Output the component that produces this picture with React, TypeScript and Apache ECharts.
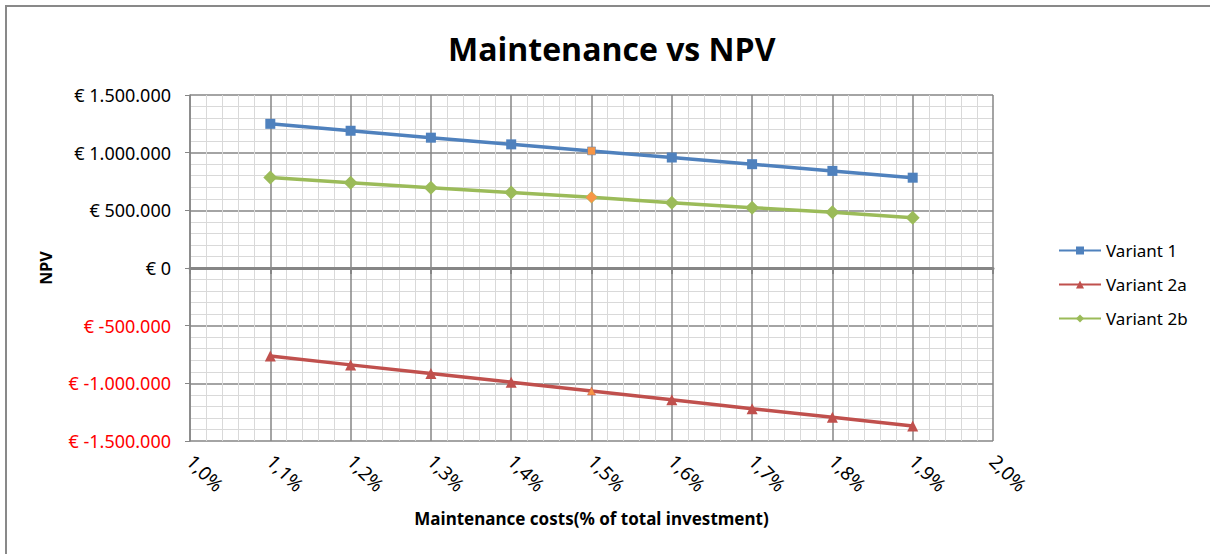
import React, { useEffect, useRef } from "react";
import * as echarts from "echarts";

const xValues = [1.1, 1.2, 1.3, 1.4, 1.5, 1.6, 1.7, 1.8, 1.9];
const variant1 = [1250000, 1190000, 1130000, 1072000, 1015000, 958000, 900000, 842000, 783000];
const variant2a = [-763000, -840000, -915000, -990000, -1067000, -1143000, -1220000, -1295000, -1370000];
const variant2b = [785000, 740000, 695000, 655000, 613000, 566000, 523000, 483000, 436000];
const highlightIndex = 4;

const FONT = "'Open Sans', sans-serif";
const BODY_FONT = "'Noto Sans', 'Open Sans', sans-serif";

function fmtEuro(v: number): string {
  if (v === 0) return "€ 0";
  const neg = v < 0;
  const s = Math.round(Math.abs(v)).toString().replace(/\B(?=(\d{3})+(?!\d))/g, ".");
  return "€ " + (neg ? "-" : "") + s;
}

function buildData(values: number[], color: string, hlSize: number) {
  return xValues.map((x, i) =>
    i === highlightIndex
      ? { value: [x, values[i]], symbolSize: hlSize, itemStyle: { color: "#F79646", borderColor: color, borderWidth: 0.5 } }
      : { value: [x, values[i]] }
  );
}

export default function App() {
  const ref = useRef<HTMLDivElement>(null);
  useEffect(() => {
    if (!ref.current) return;
    const chart = echarts.init(ref.current, null, { renderer: "svg" });
    const major = "#868686";
    const minor = "#d9d9d9";
    chart.setOption({
      animation: false,
      backgroundColor: "#ffffff",
      title: {
        text: "Maintenance vs NPV",
        left: 443,
        top: 27,
        textStyle: { fontFamily: FONT, fontSize: 32, fontWeight: "bold", color: "#000" },
      },
      graphic: [
        {
          type: "rect",
          shape: { x: 6, y: 6, width: 1400, height: 700 },
          style: { fill: "none", stroke: "#898989", lineWidth: 2 },
          silent: true,
        },
      ],
      legend: {
        orient: "vertical",
        left: 1053,
        top: 237,
        itemWidth: 42,
        itemHeight: 10,
        itemGap: 17,
        textStyle: { fontFamily: BODY_FONT, fontSize: 17, color: "#000" },
        data: ["Variant 1", "Variant 2a", "Variant 2b"],
      },
      grid: { left: 190, right: 217, top: 95, bottom: 113, containLabel: false },
      xAxis: [
        {
          type: "value",
          min: 1.0,
          max: 2.0,
          interval: 0.1,
          position: "bottom",
          name: "Maintenance costs(% of total investment)",
          nameLocation: "middle",
          nameGap: 69,
          nameTextStyle: { fontFamily: BODY_FONT, fontSize: 17, fontWeight: "bold", color: "#000" },
          axisLine: { show: false, onZero: false },
          axisTick: { show: false },
          axisLabel: {
            rotate: -45,
            margin: 17,
            fontFamily: BODY_FONT,
            fontSize: 19,
            color: "#000",
            formatter: (v: number) => v.toFixed(1).replace(".", ",") + "%",
          },
          splitLine: { show: true, lineStyle: { color: major, width: 1.5 } },
          minorTick: { show: false, splitNumber: 5 },
          minorSplitLine: { show: true, lineStyle: { color: minor, width: 1 } },
        },
        {
          type: "value",
          min: 1.0,
          max: 2.0,
          interval: 0.1,
          position: "top",
          axisLine: { show: true, onZero: true, lineStyle: { color: major, width: 3 } },
          axisTick: { show: true, inside: true, length: 6, lineStyle: { color: major, width: 2 } },
          axisLabel: { show: false },
          splitLine: { show: false },
        },
      ],
      yAxis: {
        type: "value",
        min: -1500000,
        max: 1500000,
        interval: 500000,
        name: "NPV",
        nameLocation: "middle",
        nameGap: 136,
        nameRotate: 90,
        nameTextStyle: { fontFamily: BODY_FONT, fontSize: 16, fontWeight: "bold", color: "#000" },
        axisLine: { show: true, onZero: false, lineStyle: { color: major, width: 1.5 } },
        axisTick: { show: true, length: 5, lineStyle: { color: major } },
        axisLabel: {
          margin: 19,
          fontFamily: BODY_FONT,
          fontSize: 18,
          color: (v: any) => (Number(v) < 0 ? "#ff0000" : "#000000"),
          formatter: (v: number) => fmtEuro(v),
        },
        splitLine: { show: true, lineStyle: { color: major, width: 1.5 } },
        minorTick: { show: false, splitNumber: 5 },
        minorSplitLine: { show: true, lineStyle: { color: minor, width: 1 } },
      },
      series: [
        {
          name: "Variant 1",
          type: "line",
          xAxisIndex: 0,
          data: buildData(variant1, "#4F81BD", 8),
          symbol: "rect",
          symbolSize: 10,
          color: "#4F81BD",
          lineStyle: { width: 3.5, color: "#4F81BD" },
          itemStyle: { color: "#4F81BD" },
          z: 5,
        },
        {
          name: "Variant 2a",
          type: "line",
          xAxisIndex: 0,
          data: buildData(variant2a, "#C0504D", 8),
          symbol: "triangle",
          symbolSize: 11,
          color: "#C0504D",
          lineStyle: { width: 3.5, color: "#C0504D" },
          itemStyle: { color: "#C0504D" },
          z: 5,
        },
        {
          name: "Variant 2b",
          type: "line",
          xAxisIndex: 0,
          data: buildData(variant2b, "#9BBB59", 12),
          symbol: "diamond",
          symbolSize: 14,
          color: "#9BBB59",
          lineStyle: { width: 3.5, color: "#9BBB59" },
          itemStyle: { color: "#9BBB59" },
          z: 5,
        },
      ],
    });
    return () => chart.dispose();
  }, []);
  return (
    <div
      ref={ref}
      style={{ position: "fixed", left: 0, top: 0, width: 1210, height: 554, background: "#fff" }}
    />
  );
}
